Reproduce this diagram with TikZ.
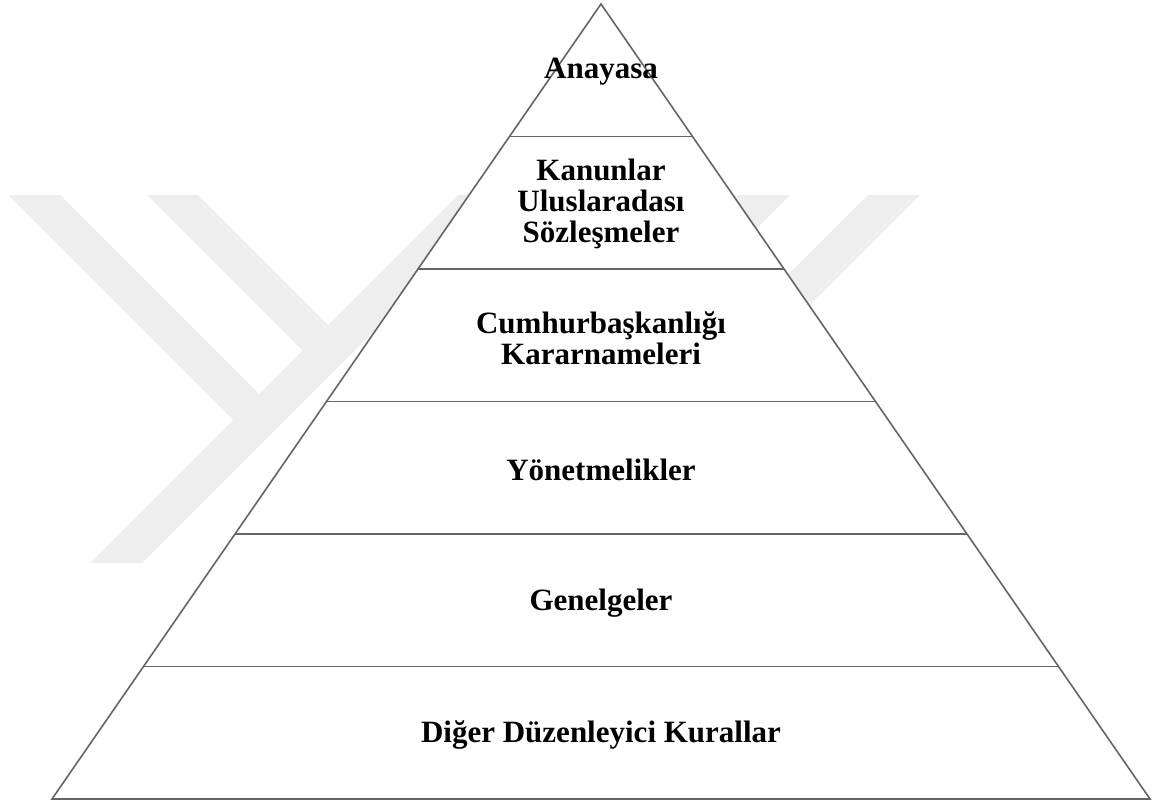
\documentclass[tikz,border=0pt]{standalone}
\usepackage{fontspec}
\setmainfont{Liberation Serif}
\usetikzlibrary{calc}
\definecolor{wmgray}{HTML}{EEEEEE}
\definecolor{linegray}{HTML}{656565}
\begin{document}
\begin{tikzpicture}[x=0.5pt,y=-0.5pt,
  wmshape/.style={fill=wmgray,draw=none},
  edgeline/.style={draw=linegray,line width=0.8pt},
  lbl/.style={font=\fontsize{15.5}{15.5}\selectfont\bfseries,align=center,inner sep=0pt}]
\useasboundingbox (0,0) rectangle (1154,801);

% background logo strokes
\fill[wmshape] (8,195) -- (60,195) -- (259,394) -- (302.5,350.5) -- (147,195)
  -- (198,195) -- (328,325) -- (458,195) -- (510,195) -- (142,563) -- (90,563)
  -- (233,420) -- cycle;
\fill[wmshape] (738,195) -- (790,195) -- (725,260) -- (673,260) -- cycle;
\fill[wmshape] (868,195) -- (920,195) -- (785,330) -- (733,330) -- cycle;

% pyramid outline
\coordinate (apex) at (601,4);
\coordinate (bl) at (52,799);
\coordinate (br) at (1150,799);
\filldraw[fill=white,edgeline,line join=miter] (apex) -- (bl) -- (br) -- cycle;

% band dividers at equal heights
\foreach \k in {1,...,5}{
  \coordinate (L\k) at ($(apex)!\k/6!(bl)$);
  \coordinate (R\k) at ($(apex)!\k/6!(br)$);
  \draw[edgeline] (L\k) -- (R\k);
}

% band labels
\node[lbl] (t1) at (601,72) {Anayasa};
\node[lbl] (t2) at (601,204) {Kanunlar\\Uluslaradası\\Sözleşmeler};
\node[lbl] (t3) at (601,338) {Cumhurbaşkanlığı\\Kararnameleri};
\node[lbl] (t4) at (601,470) {Yönetmelikler};
\node[lbl] (t5) at (601,603) {Genelgeler};
\node[lbl] (t6) at (601,735) {Diğer Düzenleyici Kurallar};
\end{tikzpicture}
\end{document}
